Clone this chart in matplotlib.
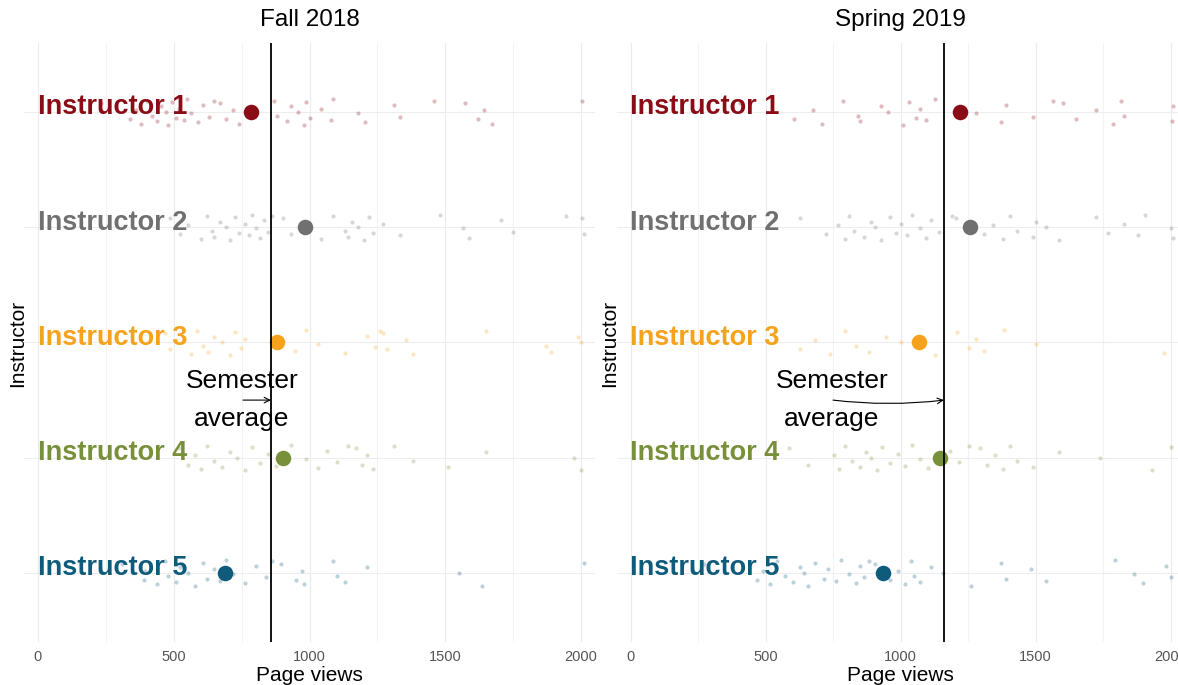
import numpy as np
import matplotlib
matplotlib.use('Agg')
import matplotlib.pyplot as plt

plt.rcParams['font.family'] = ['Liberation Sans', 'DejaVu Sans']

instructors = ['Instructor 1', 'Instructor 2', 'Instructor 3', 'Instructor 4', 'Instructor 5']
colors = ['#8a0c16', '#707070', '#f6a21c', '#78903a', '#0f5b7c']

semesters = ['Fall 2018', 'Spring 2019']
semester_avg = [858, 1161]

# page views per student
fall_i1 = [233, 340, 360, 380, 403, 420, 440, 452, 470, 480, 495, 508, 520, 537, 550, 565, 590, 607,
           630, 649, 670, 692, 720, 741, 868, 882, 917, 931, 959, 981, 988, 1002, 1044, 1079, 1086,
           1178, 1206, 1312, 1333, 1460, 1573, 1622, 1643, 1671, 2003]
fall_i2 = [487, 522, 551, 600, 621, 642, 649, 670, 692, 706, 727, 741, 762, 776, 790, 804, 818, 833,
           847, 861, 903, 931, 967, 1044, 1086, 1129, 1143, 1157, 1178, 1199, 1220, 1234, 1270,
           1333, 1481, 1566, 1587, 1706, 1749, 1946, 2003, 2010]
fall_i3 = [466, 487, 508, 565, 586, 607, 628, 649, 678, 706, 727, 748, 762, 945, 988, 1030, 1129,
           1213, 1241, 1260, 1270, 1284, 1354, 1382, 1650, 1870, 1890, 1988, 2000]
fall_i4 = [520, 551, 579, 600, 621, 649, 678, 706, 734, 762, 790, 818, 847, 875, 931, 988, 1030,
           1065, 1100, 1143, 1171, 1192, 1213, 1234, 1312, 1382, 1509, 1650, 1974, 2000]
fall_i5 = [311, 389, 396, 438, 466, 480, 508, 522, 551, 579, 607, 621, 649, 670, 692, 720, 762,
           804, 840, 861, 896, 952, 974, 981, 1086, 1100, 1129, 1213, 1551, 1636, 2010]

spring_i1 = [406, 607, 676, 711, 788, 843, 850, 926, 954, 1010, 1031, 1058, 1072, 1093, 1128, 1281,
             1371, 1392, 1489, 1565, 1600, 1649, 1725, 1788, 1815, 1829, 2005, 2010]
spring_i2 = [628, 725, 767, 794, 808, 829, 864, 892, 906, 926, 961, 982, 1003, 1024, 1044, 1072,
             1093, 1114, 1142, 1190, 1204, 1308, 1343, 1378, 1406, 1433, 1489, 1503, 1538, 1586,
             1725, 1767, 1829, 1878, 1906, 2003, 2010]
spring_i3 = [531, 628, 683, 739, 794, 836, 885, 947, 1003, 1128, 1211, 1253, 1281, 1308, 1385,
             1503, 1975]
spring_i4 = [586, 656, 753, 774, 794, 822, 850, 871, 892, 913, 933, 961, 989, 1017, 1044, 1072,
             1100, 1183, 1218, 1253, 1294, 1322, 1350, 1378, 1406, 1433, 1489, 1586, 1739, 1933, 2003]
spring_i5 = [274, 468, 489, 517, 544, 572, 600, 628, 642, 656, 683, 718, 732, 760, 781, 808, 836,
             850, 864, 885, 906, 961, 989, 1017, 1038, 1051, 1072, 1114, 1156, 1260, 1371, 1392,
             1482, 1538, 1794, 1864, 1899, 1982, 2003]

fall_means = [783, 983, 880, 901, 687]
spring_means = [1222, 1259, 1067, 1146, 937]

fall = [fall_i1, fall_i2, fall_i3, fall_i4, fall_i5]
spring = [spring_i1, spring_i2, spring_i3, spring_i4, spring_i5]

# fixed vertical jitter pattern for the small points
jit = np.array([-0.08, 0.06, -0.02, 0.1, -0.1, 0.03, 0.08, -0.05, 0.0, 0.11,
                -0.09, 0.05, -0.03, 0.07, -0.11, 0.01, 0.09, -0.06, 0.04, -0.1])

fig = plt.figure(figsize=(11.78, 6.85), dpi=100)
W, H = 1178, 685
bottom = 1 - 642 / H
height = (642 - 43) / H
ax1 = fig.add_axes([24.4 / W, bottom, (594.6 - 24.4) / W, height])
ax2 = fig.add_axes([617 / W, bottom, (1184 - 617) / W, height])

# text x, text y, arrow curvature
text_pos = [(751, 3.5, 0.0), (746, 3.5, 0.06)]

for ax, sem, data, means, avg, tp in zip([ax1, ax2], semesters, [fall, spring],
                                        [fall_means, spring_means], semester_avg, text_pos):
    ax.set_xlim(-50, 2050)
    ax.set_ylim(5.6, 0.4)
    for s in ax.spines.values():
        s.set_visible(False)
    for v in range(0, 2001, 250):
        ax.axvline(v, color='#f3f3f3' if v % 500 else '#ebebeb', lw=0.8, zorder=0)
    for k in range(5):
        ax.axhline(k + 1, color='#ededed', lw=0.8, zorder=0)
    for k, (vals, c) in enumerate(zip(data, colors)):
        y = k + 1 + np.resize(jit, len(vals))
        ax.scatter(vals, y, s=9, color=c, alpha=0.28, lw=0, zorder=2)
        ax.text(0, k + 1 + 0.02, instructors[k], color=c, fontsize=19.5, fontweight='bold',
                ha='left', va='baseline', zorder=3)
        ax.scatter([means[k]], [k + 1], s=125, color=c, zorder=4, lw=0)
    ax.axvline(avg, color='black', lw=1.3, zorder=5)
    ax.text(tp[0], tp[1], 'Semester\naverage', fontsize=19, ha='center', va='center',
            linespacing=1.7, zorder=6)
    ax.annotate('', xy=(avg, tp[1]), xytext=(tp[0] + 4, tp[1]),
                arrowprops=dict(arrowstyle='->', color='black', lw=0.8,
                                connectionstyle='arc3,rad=%s' % tp[2],
                                shrinkA=0, shrinkB=0))
    ax.set_xticks([0, 500, 1000, 1500, 2000])
    ax.set_yticks([])
    ax.tick_params(axis='x', length=0, pad=6, labelsize=10.5, labelcolor='#555555')
    ax.set_xlabel('Page views', fontsize=15, labelpad=1)
    ax.set_title(sem, fontsize=17.5, pad=12)

fig.text(18 / W, 1 - 343 / H, 'Instructor', rotation=90, ha='center', va='center', fontsize=15)
fig.text(610 / W, 1 - 343 / H, 'Instructor', rotation=90, ha='center', va='center', fontsize=15)

fig.savefig('out.png', dpi=100, facecolor='white')
